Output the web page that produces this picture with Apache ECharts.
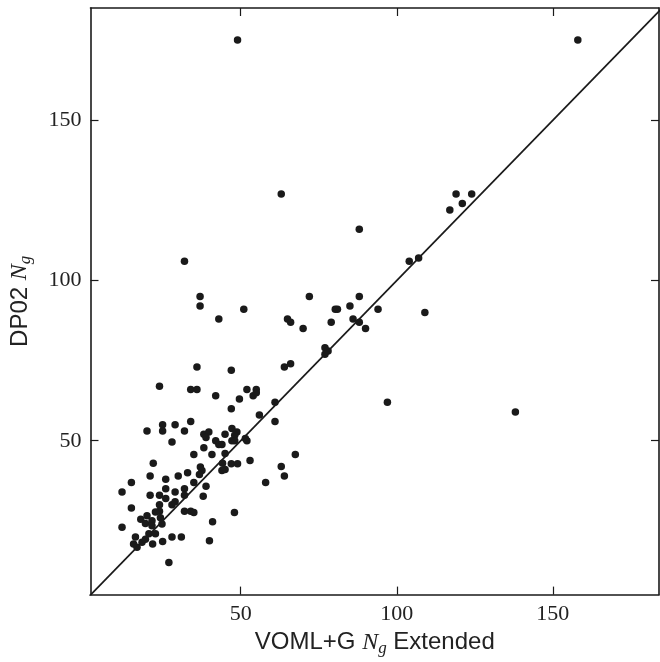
<!DOCTYPE html>
<html>
<head>
<meta charset="utf-8">
<script src="https://cdn.jsdelivr.net/npm/echarts@6/dist/echarts.min.js"></script>
<style>html,body{margin:0;padding:0;background:#fff}#c{width:660px;height:662px}</style>
</head>
<body>
<div id="c"></div>
<script>
const xTicks = [50, 100, 150];
const yTicks = [50, 100, 150];
const xRange = [1.9, 184];
const yRange = [2, 185];
const refLine = [[0, 0], [200, 200]];
const voml = [
49,158,63,88,117,119,121,124,104,107,109,97,138,
32,37,37,43,36,47,24,34,36,42,49.6,47,25,29,34,20,25,32,
72,51,80.3,81,85,88,94,65,66,70,79,86,88,90,77,78,77,64,66,52,55,54,55,61,56,61,
28,22,15,12,21,26,30,33,21,24,26,26,29,32,32,15,24,24,22.7,28,29,32,34,12,18,20,19.5,21.6,21.6,24.3,24.8,20.6,22.7,16.3,15.7,16.8,18.4,19.5,21.8,25,28,31,27,
38.2,39.8,38.9,45,47.2,48.8,48.1,42,43,44,47.2,48.1,51.5,52,38.2,35,40.8,45,37.1,37.6,36.8,44.2,45,44,47,49,53,35,38.9,38,35,48,41,40,58,63,64,67.5
];
const dp02 = [
175,175,127,116,122,127,124,127,106,107,90,62,59,
106,95,92,88,73,72,67,66,66,64,63,60,55,55,56,53,53,53,
95,91,91,91,92,95,91,88,87,85,87,88,87,85,79,78,77,73,74,66,66,64,65,62,58,56,
49.6,43,37,34,39,38,39,40,33,33,35,32,34,35,33,29,30,28,27.8,30,31,28,28,23,25.5,26.6,24.2,25,23.5,26,24,21,21,20,17.8,16.8,18.3,19.3,17.8,18.6,20,20,12,
52,52.7,51,52,53.8,52.7,51.7,50,48.8,48.8,50,50,50.7,50,47.8,45.7,45.7,46,41.8,40.7,39.5,43,41,40.7,42.8,42.8,43.8,37,35.8,32.7,27.6,27.6,24.7,18.8,37,42,39,45.7
];
const points = voml.map((x, i) => [x, dp02[i]]);

const serif = '"Liberation Serif", "DejaVu Serif", serif';
const sans = '"Liberation Sans", Arial, sans-serif';
const lineCol = '#1a1a1a';

function axisBase(range, pos, labels, ticks) {
  return {
    type: 'value', position: pos, min: range[0], max: range[1],
    splitLine: {show: false},
    axisLine: {show: true, onZero: false, lineStyle: {color: lineCol, width: 1.6}},
    axisTick: {show: true, inside: true, length: 8, customValues: ticks, lineStyle: {color: lineCol, width: 1.2}},
    axisLabel: {show: labels, customValues: ticks, fontFamily: serif, fontSize: 22, color: '#222', margin: 9},
  };
}

const chart = echarts.init(document.getElementById('c'));
const xMain = axisBase(xRange, 'bottom', true, xTicks);
Object.assign(xMain, {
  name: '{a|VOML+G }{b|N}{c|g}{a| Extended}', nameLocation: 'middle', nameGap: 30,
  nameTextStyle: {rich: {
    a: {fontFamily: sans, fontSize: 24, color: '#222'},
    b: {fontFamily: serif, fontStyle: 'italic', fontSize: 24, color: '#222'},
    c: {fontFamily: serif, fontStyle: 'italic', fontSize: 17, color: '#222', padding: [12, 0, 0, 0]}
  }}
});
const yMain = axisBase(yRange, 'left', true, yTicks);
Object.assign(yMain, {
  name: '{a|DP02 }{b|N}{c|g}', nameLocation: 'middle', nameGap: 56, nameRotate: 90,
  nameTextStyle: {rich: {
    a: {fontFamily: sans, fontSize: 24, color: '#222'},
    b: {fontFamily: serif, fontStyle: 'italic', fontSize: 24, color: '#222'},
    c: {fontFamily: serif, fontStyle: 'italic', fontSize: 17, color: '#222', padding: [12, 0, 0, 0]}
  }}
});

chart.setOption({
  animation: false,
  backgroundColor: '#fff',
  grid: {left: 90, right: 1, top: 8, bottom: 64, containLabel: false},
  xAxis: [xMain, axisBase(xRange, 'top', false, xTicks)],
  yAxis: [yMain, axisBase(yRange, 'right', false, yTicks)],
  series: [
    {type: 'line', data: refLine, xAxisIndex: 0, yAxisIndex: 0, symbol: 'none', clip: true,
     lineStyle: {color: lineCol, width: 1.8}, z: 1},
    {type: 'scatter', data: points, xAxisIndex: 0, yAxisIndex: 0, symbol: 'circle', symbolSize: 7.5,
     itemStyle: {color: '#1a1a1a', opacity: 1}, z: 2}
  ]
});
</script>
</body>
</html>
